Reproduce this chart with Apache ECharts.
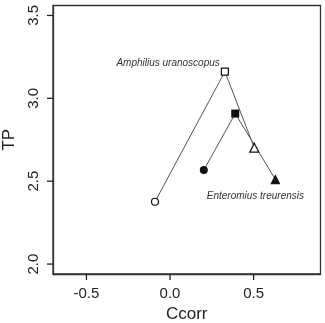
<!DOCTYPE html>
<html>
<head>
<meta charset="utf-8">
<script src="https://cdn.jsdelivr.net/npm/echarts@6/dist/echarts.min.js"></script>
<style>
  html, body { margin: 0; padding: 0; background: #fff; }
  #main { width: 325px; height: 323px; }
</style>
</head>
<body>
<div id="main"></div>
<script>
// stage markers per species (Ccorr, TP)
const openCcorr = [-0.09, 0.328, 0.504];
const openTP = [2.376, 3.161, 2.702];
const filledCcorr = [0.202, 0.39, 0.63];
const filledTP = [2.567, 2.908, 2.511];
const symbolsOpen = ['circle', 'rect', 'triangle'];
const symbolsFilled = ['circle', 'rect', 'triangle'];
const xTicks = [-0.5, 0.0, 0.5];
const yTicks = [2.0, 2.5, 3.0, 3.5];
const speciesLabels = ['Amphilius uranoscopus', 'Enteromius treurensis'];

const fontFam = '"Liberation Sans", Arial, sans-serif';
const xRange = [-0.70, 0.90];
const yRange = [1.94, 3.56];

const openData = openCcorr.map((x, i) => {
  const d = {
    value: [x, openTP[i]],
    symbol: symbolsOpen[i],
    symbolSize: symbolsOpen[i] === 'triangle' ? 9 : 7
  };
  if (i === 1) {
    d.label = {
      show: true,
      formatter: speciesLabels[0],
      position: 'left',
      offset: [4, -8],
      fontStyle: 'italic',
      fontSize: 10,
      fontFamily: fontFam,
      color: '#333'
    };
  }
  return d;
});

const filledData = filledCcorr.map((x, i) => {
  const d = {
    value: [x, filledTP[i]],
    symbol: symbolsFilled[i],
    symbolSize: symbolsFilled[i] === 'triangle' ? 10 : 8
  };
  if (i === 2) {
    d.label = {
      show: true,
      formatter: speciesLabels[1],
      position: 'bottom',
      offset: [-20, 2],
      fontStyle: 'italic',
      fontSize: 10,
      fontFamily: fontFam,
      color: '#333'
    };
  }
  return d;
});

const myChart = echarts.init(document.getElementById('main'));
const option = {
  animation: false,
  backgroundColor: '#fff',
  grid: {
    left: 53,
    right: 4.5,
    top: 5.5,
    bottom: 49,
    outerBoundsMode: 'none',
    show: true,
    borderColor: '#333',
    borderWidth: 1.3
  },
  xAxis: {
    type: 'value',
    min: xRange[0],
    max: xRange[1],
    name: 'Ccorr',
    nameLocation: 'middle',
    nameGap: 31,
    nameTextStyle: { fontSize: 17, fontFamily: fontFam, color: '#222' },
    splitLine: { show: false },
    axisLine: { show: true, onZero: false, lineStyle: { color: '#333', width: 1.3 } },
    axisTick: { show: false },
    axisLabel: {
      fontSize: 15,
      fontFamily: fontFam,
      color: '#222',
      margin: 12,
      customValues: xTicks,
      formatter: v => v.toFixed(1)
    }
  },
  yAxis: {
    type: 'value',
    min: yRange[0],
    max: yRange[1],
    name: 'TP',
    nameLocation: 'middle',
    nameGap: 33,
    nameRotate: 90,
    nameTextStyle: { fontSize: 17, fontFamily: fontFam, color: '#222' },
    splitLine: { show: false },
    axisLine: { show: true, onZero: false, lineStyle: { color: '#333', width: 1.3 } },
    axisTick: { show: false },
    axisLabel: {
      fontSize: 15,
      fontFamily: fontFam,
      color: '#222',
      margin: 12,
      rotate: 90,
      customValues: yTicks,
      formatter: v => v.toFixed(1)
    }
  },
  series: [
    {
      type: 'line',
      data: openData,
      lineStyle: { color: '#555', width: 1 },
      itemStyle: { color: '#fff', borderColor: '#111', borderWidth: 1.2 },
      z: 3
    },
    {
      type: 'line',
      data: filledData,
      lineStyle: { color: '#555', width: 1 },
      itemStyle: { color: '#111', borderColor: '#111', borderWidth: 0 },
      z: 3
    }
  ]
};
myChart.setOption(option);

// outward tick marks, placed through the chart's own scales
const tickLen = 6;
const tickStyle = { stroke: '#222', lineWidth: 1.3 };
const tickEls = [];
xTicks.forEach(v => {
  const p = myChart.convertToPixel({ gridIndex: 0 }, [v, yRange[0]]);
  tickEls.push({ type: 'line', shape: { x1: p[0], y1: p[1], x2: p[0], y2: p[1] + tickLen }, style: tickStyle, z: 10 });
});
yTicks.forEach(v => {
  const p = myChart.convertToPixel({ gridIndex: 0 }, [xRange[0], v]);
  tickEls.push({ type: 'line', shape: { x1: p[0], y1: p[1], x2: p[0] - tickLen, y2: p[1] }, style: tickStyle, z: 10 });
});
myChart.setOption({ graphic: tickEls });
</script>
</body>
</html>
